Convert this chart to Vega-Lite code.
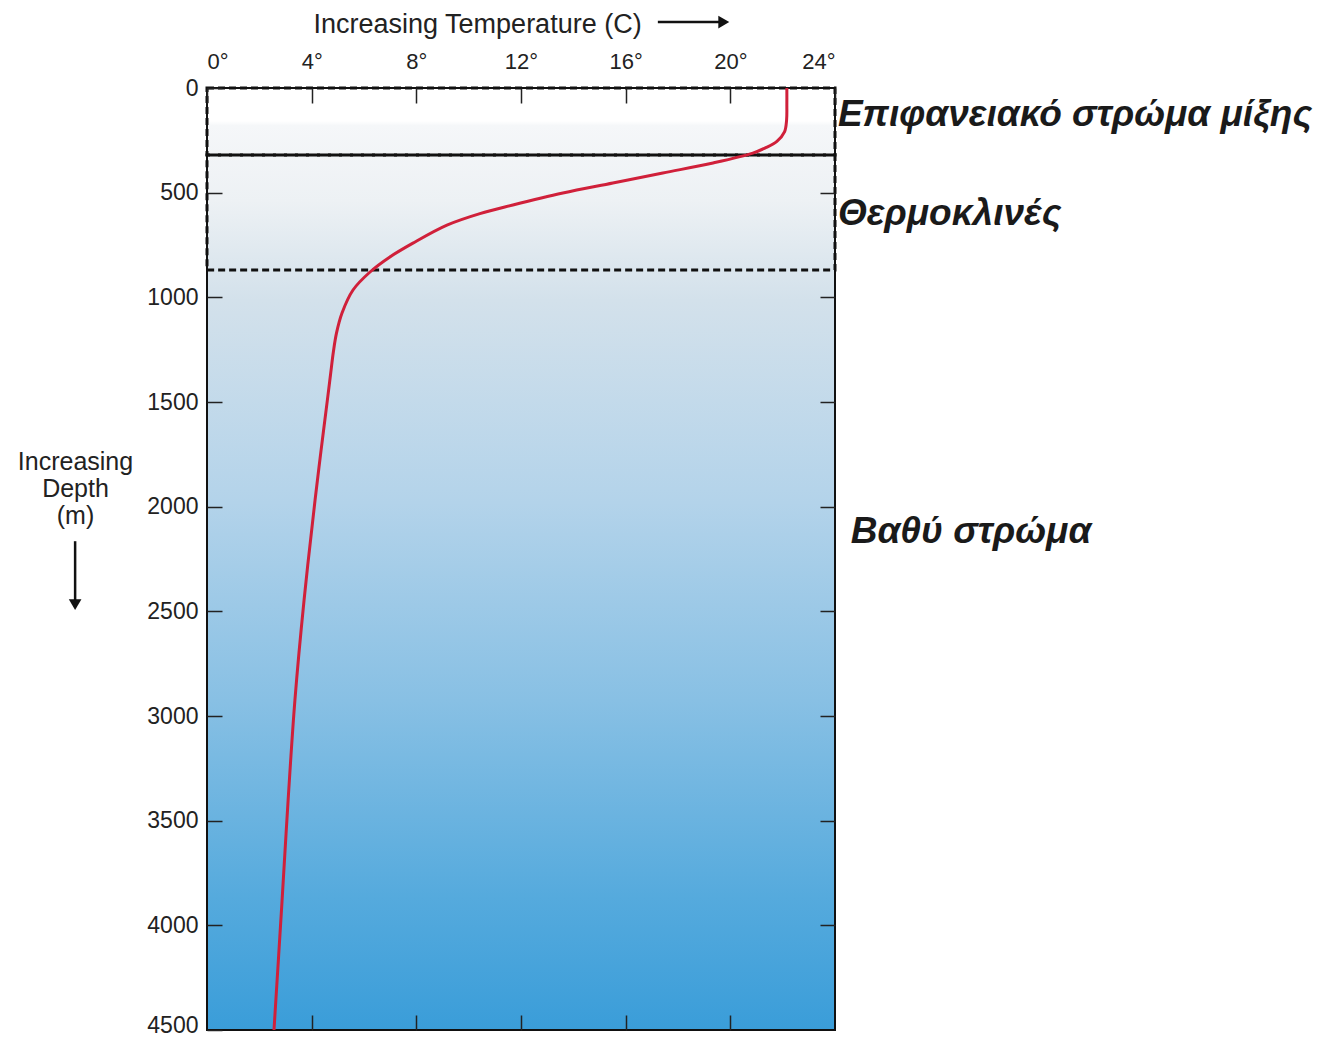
{
  "$schema": "https://vega.github.io/schema/vega-lite/v6.json",
  "width": 628,
  "height": 942,
  "autosize": {"type": "none"},
  "padding": {"left": 207, "top": 88, "right": 483, "bottom": 8},
  "background": "white",
  "config": {
    "view": {"stroke": null},
    "font": "Liberation Sans",
    "axis": {"labelFont": "Liberation Sans", "titleFont": "Liberation Sans", "labelColor": "#222", "titleColor": "#222", "tickColor": "#222", "tickWidth": 1.5, "grid": false, "domain": false}
  },
  "datasets": {
    "profile": [
      {"temp": 22.16, "depth": 0},
      {"temp": 22.16, "depth": 80},
      {"temp": 22.15, "depth": 153},
      {"temp": 22.07, "depth": 210},
      {"temp": 21.78, "depth": 255},
      {"temp": 21.32, "depth": 287},
      {"temp": 20.86, "depth": 311},
      {"temp": 19.34, "depth": 358},
      {"temp": 17.42, "depth": 406},
      {"temp": 15.51, "depth": 454},
      {"temp": 13.6, "depth": 502},
      {"temp": 11.69, "depth": 559},
      {"temp": 10.43, "depth": 600},
      {"temp": 9.17, "depth": 655},
      {"temp": 7.87, "depth": 741},
      {"temp": 6.99, "depth": 807},
      {"temp": 6.23, "depth": 879},
      {"temp": 5.58, "depth": 965},
      {"temp": 5.16, "depth": 1075},
      {"temp": 4.95, "depth": 1170},
      {"temp": 4.83, "depth": 1260},
      {"temp": 4.72, "depth": 1370},
      {"temp": 4.6, "depth": 1491},
      {"temp": 4.36, "depth": 1730},
      {"temp": 4.13, "depth": 1968},
      {"temp": 3.71, "depth": 2446},
      {"temp": 3.36, "depth": 2924},
      {"temp": 3.1, "depth": 3402},
      {"temp": 2.87, "depth": 3880},
      {"temp": 2.56, "depth": 4500}
    ],
    "frame": [{"t0": 0, "t1": 24, "d0": 0, "d1": 4500}],
    "layers": [
      {"t0": 0, "t1": 24, "d0": 0, "d1": 320},
      {"t0": 0, "t1": 24, "d0": 320, "d1": 870}
    ],
    "labels": [
      {"label": "Επιφανειακό στρώμα μίξης", "temp": 24.11, "depth": 129},
      {"label": "Θερμοκλινές", "temp": 24.11, "depth": 602},
      {"label": "Βαθύ στρώμα", "temp": 24.6, "depth": 2121}
    ],
    "shafts": [
      {"x0": -5.04, "x1": -5.04, "y0": 2165, "y1": 2455},
      {"x0": 17.23, "x1": 19.6, "y0": -315, "y1": -315}
    ],
    "heads": [
      {"x": -5.04, "y": 2468, "dir": "down"},
      {"x": 19.75, "y": -315, "dir": "right"}
    ]
  },
  "resolve": {"axis": {"x": "independent", "y": "independent"}},
  "layer": [
    {
      "data": {"name": "frame"},
      "mark": {
        "type": "rect",
        "stroke": "#111",
        "strokeWidth": 2,
        "fill": {
          "gradient": "linear", "x1": 0, "y1": 0, "x2": 0, "y2": 1,
          "stops": [
            {"offset": 0, "color": "#ffffff"},
            {"offset": 0.035, "color": "#ffffff"},
            {"offset": 0.04, "color": "#f5f7f9"},
            {"offset": 0.12, "color": "#edf1f4"},
            {"offset": 0.225, "color": "#d3e1eb"},
            {"offset": 0.44, "color": "#b3d3ea"},
            {"offset": 0.65, "color": "#88c0e4"},
            {"offset": 0.86, "color": "#55aadd"},
            {"offset": 1, "color": "#3a9dd9"}
          ]
        }
      },
      "encoding": {
        "x": {
          "field": "t0", "type": "quantitative",
          "scale": {"domain": [0, 24], "nice": false, "zero": false},
          "axis": {
            "orient": "top",
            "zindex": 3,
            "values": [0, 4, 8, 12, 16, 20, 24],
            "labelExpr": "datum.value + '°'",
            "labelFontSize": 22,
            "tickSize": -15,
            "labelPadding": 30,
            "title": "Increasing Temperature (C)",
            "titleFontSize": 27,
            "titleFontWeight": "normal",
            "titleBaseline": "alphabetic",
            "titleAlign": "left",
            "titleX": 106,
            "titleY": -56
          }
        },
        "x2": {"field": "t1"},
        "y": {
          "field": "d0", "type": "quantitative",
          "scale": {"domain": [0, 4500], "nice": false, "zero": false, "reverse": true},
          "axis": {
            "orient": "left",
            "zindex": 3,
            "values": [0, 500, 1000, 1500, 2000, 2500, 3000, 3500, 4000, 4500],
            "format": "d",
            "labelFontSize": 23,
            "labelOffset": {"condition": {"test": "datum.value == 4500", "value": -5}, "value": 0},
            "tickSize": -15,
            "labelPadding": 24,
            "title": ["Increasing", "Depth", "(m)"],
            "titleFontSize": 25,
            "titleFontWeight": "normal",
            "titleAngle": 0,
            "titleAlign": "center",
            "titleBaseline": "middle",
            "titleLineHeight": 27,
            "titleX": -132,
            "titleY": 373
          }
        },
        "y2": {"field": "d1"}
      }
    },
    {
      "data": {"name": "layers"},
      "mark": {"type": "rect", "fill": null, "fillOpacity": 0, "stroke": "#111", "strokeWidth": 3, "strokeDash": [7, 4]},
      "encoding": {
        "x": {
          "field": "t0", "type": "quantitative",
          "axis": {"orient": "bottom", "zindex": 3, "values": [4, 8, 12, 16, 20], "labels": false, "tickSize": -15, "title": null}
        },
        "x2": {"field": "t1"},
        "y": {
          "field": "d0", "type": "quantitative",
          "axis": {"orient": "right", "zindex": 3, "values": [500, 1000, 1500, 2000, 2500, 3000, 3500, 4000], "labels": false, "tickSize": -15, "title": null}
        },
        "y2": {"field": "d1"}
      }
    },
    {
      "data": {"name": "profile"},
      "mark": {"type": "line", "color": "#d0203a", "strokeWidth": 3, "interpolate": "catmull-rom"},
      "encoding": {
        "x": {"field": "temp", "type": "quantitative", "axis": null},
        "y": {"field": "depth", "type": "quantitative", "axis": null},
        "order": {"field": "depth", "type": "quantitative"}
      }
    },
    {
      "data": {"name": "labels"},
      "mark": {"type": "text", "align": "left", "baseline": "middle", "font": "Liberation Sans", "fontSize": 37, "fontStyle": "italic", "fontWeight": "bold", "color": "#1a1a1a"},
      "encoding": {
        "x": {"field": "temp", "type": "quantitative", "axis": null},
        "y": {"field": "depth", "type": "quantitative", "axis": null},
        "text": {"field": "label"}
      }
    },
    {
      "data": {"name": "shafts"},
      "mark": {"type": "rule", "color": "#111", "strokeWidth": 2.5},
      "encoding": {
        "x": {"field": "x0", "type": "quantitative", "axis": null},
        "x2": {"field": "x1"},
        "y": {"field": "y0", "type": "quantitative", "axis": null},
        "y2": {"field": "y1"}
      }
    },
    {
      "data": {"name": "heads"},
      "mark": {"type": "point", "filled": true, "color": "#111", "opacity": 1, "size": 160},
      "encoding": {
        "x": {"field": "x", "type": "quantitative", "axis": null},
        "y": {"field": "y", "type": "quantitative", "axis": null},
        "shape": {"field": "dir", "type": "nominal", "scale": {"domain": ["down", "right"], "range": ["triangle-down", "triangle-right"]}, "legend": null}
      }
    }
  ]
}
